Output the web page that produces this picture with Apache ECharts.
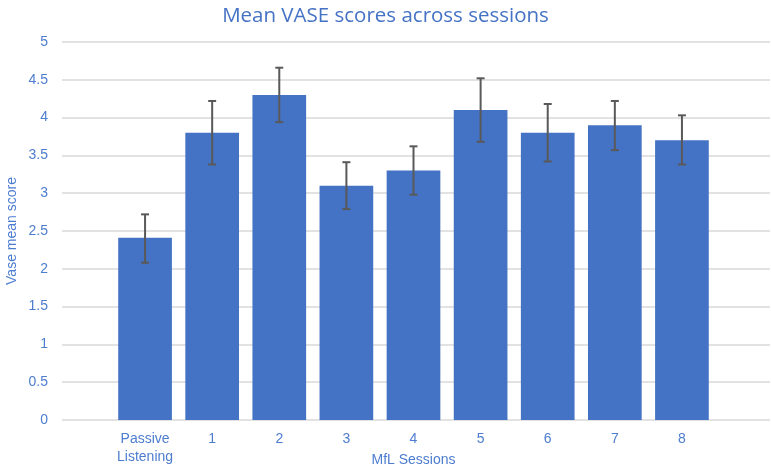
<!DOCTYPE html>
<html>
<head>
<meta charset="utf-8">
<script src="https://cdn.jsdelivr.net/npm/echarts@6/dist/echarts.min.js"></script>
<style>html,body{margin:0;padding:0;background:#fff}#c{width:771px;height:470px}</style>
</head>
<body>
<div id="c"></div>
<script>
const categories = ["Passive\nListening", "1", "2", "3", "4", "5", "6", "7", "8"];
const meanScores = [2.41, 3.80, 4.30, 3.10, 3.30, 4.10, 3.80, 3.90, 3.70];
const errLow = [2.08, 3.38, 3.94, 2.79, 2.98, 3.68, 3.42, 3.57, 3.38];
const errHigh = [2.72, 4.22, 4.66, 3.41, 3.62, 4.52, 4.18, 4.22, 4.03];
const yTicks = [0, 0.5, 1, 1.5, 2, 2.5, 3, 3.5, 4, 4.5, 5];

const textBlue = '#4472C4';
const labelBlue = '#4d7dcf';
const font = '"Liberation Sans Narrow", "Liberation Sans", sans-serif';
const chart = echarts.init(document.getElementById('c'));
chart.setOption({
  animation: false,
  title: {
    text: 'Mean VASE scores across sessions',
    left: 'center', top: 1,
    textStyle: { color: textBlue, fontSize: 20.5, fontWeight: 'normal', fontFamily: '"Open Sans", sans-serif' }
  },
  grid: [
    { left: 111.5, right: 55.5, top: 42, bottom: 50, containLabel: false, outerBoundsMode: 'none' },
    { left: 62, right: 1, top: 42, bottom: 50, containLabel: false, outerBoundsMode: 'none' }
  ],
  xAxis: [
    {
      type: 'category', gridIndex: 0, data: categories,
      axisLine: { show: false }, axisTick: { show: false },
      axisLabel: { color: labelBlue, fontSize: 14, fontFamily: font, margin: 10, lineHeight: 18, interval: 0 },
      name: 'MfL Sessions', nameLocation: 'middle', nameGap: 33, nameMoveOverlap: false,
      nameTextStyle: { color: labelBlue, fontSize: 14, fontFamily: font }
    },
    { type: 'value', gridIndex: 1, show: false, min: 0, max: 1 }
  ],
  yAxis: [
    { type: 'value', gridIndex: 0, min: 0, max: 5, interval: 0.5, show: false },
    {
      type: 'value', gridIndex: 1, min: 0, max: 5, interval: 0.5,
      axisLine: { show: false }, axisTick: { show: false },
      axisLabel: { color: labelBlue, fontSize: 14, fontFamily: font, margin: 14,
        customValues: yTicks },
      splitLine: { lineStyle: { color: '#d9d9d9', width: 1.5 } },
      name: 'Vase mean score', nameLocation: 'middle', nameGap: 43, nameMoveOverlap: false,
      nameTextStyle: { color: labelBlue, fontSize: 14, fontFamily: font }
    }
  ],
  series: [
    {
      type: 'bar', xAxisIndex: 0, yAxisIndex: 0, data: meanScores,
      barCategoryGap: '20%',
      itemStyle: { color: '#4472C4' }
    },
    {
      type: 'custom', xAxisIndex: 0, yAxisIndex: 0,
      data: categories.map((c, i) => [i, errLow[i], errHigh[i]]),
      renderItem: function (params, api) {
        const lo = api.coord([api.value(0), api.value(1)]);
        const hi = api.coord([api.value(0), api.value(2)]);
        const w = 4;
        const style = { stroke: '#595959', lineWidth: 2 };
        return {
          type: 'group',
          children: [
            { type: 'line', shape: { x1: hi[0], y1: hi[1], x2: lo[0], y2: lo[1] }, style: style },
            { type: 'line', shape: { x1: hi[0] - w, y1: hi[1], x2: hi[0] + w, y2: hi[1] }, style: style },
            { type: 'line', shape: { x1: lo[0] - w, y1: lo[1], x2: lo[0] + w, y2: lo[1] }, style: style }
          ]
        };
      },
      z: 10
    }
  ]
});
</script>
</body>
</html>
